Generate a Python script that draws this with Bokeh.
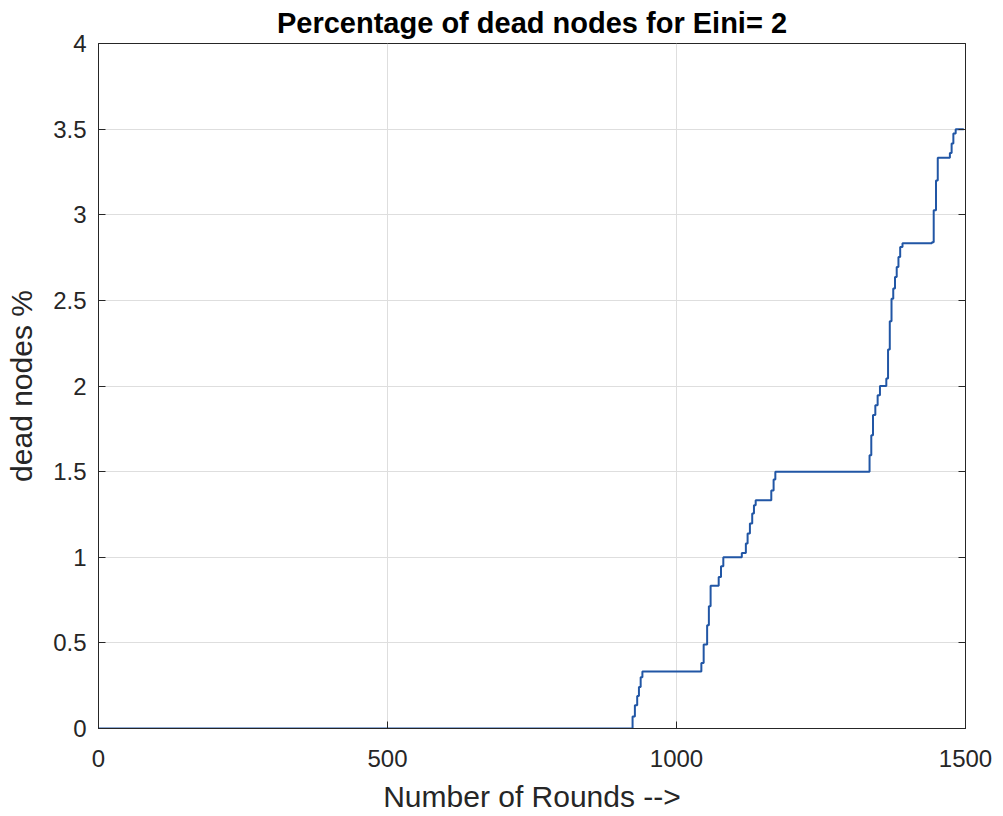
from bokeh.plotting import figure
from bokeh.models import Range1d, FixedTicker, LinearAxis, CustomJSTickFormatter
from bokeh.embed import file_html
from bokeh.resources import INLINE

# ---- data ----
rounds = [0, 924, 928, 932, 935, 938, 941, 1043, 1047, 1053, 1056, 1059,
          1073, 1077, 1081, 1113, 1120, 1123, 1127, 1131, 1134, 1137,
          1164, 1168, 1171, 1334, 1337, 1340, 1344, 1348, 1352,
          1363, 1366, 1369, 1372, 1375, 1378, 1381, 1384, 1387, 1391,
          1442, 1445, 1449, 1452, 1473, 1476, 1479, 1483, 1497]
dead_pct = [0.0, 0.07, 0.136, 0.19, 0.243, 0.30, 0.333, 0.383, 0.49, 0.603, 0.714, 0.833,
            0.885, 0.948, 1.0, 1.025, 1.08, 1.139, 1.197, 1.255, 1.304, 1.333,
            1.39, 1.454, 1.5, 1.596, 1.713, 1.83, 1.888, 1.946, 2.0,
            2.044, 2.213, 2.378, 2.51, 2.57, 2.637, 2.695, 2.754, 2.812, 2.833,
            2.84, 3.027, 3.2, 3.333, 3.361, 3.416, 3.474, 3.5, 3.5]
x_ticks = [0, 500, 1000, 1500]
y_ticks = [0, 0.5, 1, 1.5, 2, 2.5, 3, 3.5, 4]

title_text = "Percentage of dead nodes for Eini= 2"
x_label = "Number of Rounds -->"
y_label = "dead nodes %"

FONT = "Liberation Sans"
AX = "#262626"
TICK_SIZE = "24px"
LABEL_SIZE = "30px"

p = figure(width=1003, height=816, output_backend="svg", toolbar_location=None,
           x_range=Range1d(0, 1500), y_range=Range1d(0, 4),
           min_border_left=98, min_border_right=38, min_border_top=43, min_border_bottom=88,
           background_fill_color="white", border_fill_color="white")

p.title.text = title_text
p.title.align = "center"
p.title.text_font = FONT
p.title.text_font_size = "29px"
p.title.text_font_style = "bold"
p.title.text_color = "#000000"
p.title.standoff = 9
p.title.vertical_align = "bottom"

p.outline_line_color = AX
p.outline_line_width = 1
p.outline_line_alpha = 1

fmt = CustomJSTickFormatter(code="return String(tick);")
blank = CustomJSTickFormatter(code="return '';")

for ax in (p.xaxis[0], p.yaxis[0]):
    ax.axis_line_color = AX
    ax.major_tick_line_color = AX
    ax.major_tick_in = 7
    ax.major_tick_out = 0
    ax.minor_tick_line_color = None
    ax.major_label_text_font = FONT
    ax.major_label_text_font_size = TICK_SIZE
    ax.major_label_text_color = AX
    ax.axis_label_text_font = FONT
    ax.axis_label_text_font_size = LABEL_SIZE
    ax.axis_label_text_font_style = "normal"
    ax.axis_label_text_color = AX
    ax.formatter = fmt

p.xaxis[0].ticker = FixedTicker(ticks=x_ticks)
p.yaxis[0].ticker = FixedTicker(ticks=y_ticks)
p.xaxis[0].axis_label = x_label
p.yaxis[0].axis_label = y_label
p.xaxis[0].major_label_standoff = 21
p.yaxis[0].major_label_standoff = 12
p.xaxis[0].axis_label_standoff = 10
p.yaxis[0].axis_label_standoff = 12

right = LinearAxis(ticker=FixedTicker(ticks=y_ticks), formatter=blank,
                   axis_line_color=AX, major_tick_line_color=AX, major_tick_in=7,
                   major_tick_out=0, minor_tick_line_color=None)
p.add_layout(right, "right")

p.xgrid.ticker = FixedTicker(ticks=x_ticks)
p.ygrid.ticker = FixedTicker(ticks=y_ticks)
for g in (p.xgrid[0], p.ygrid[0]):
    g.grid_line_color = "#dedede"
    g.grid_line_width = 1

p.step(rounds, dead_pct, mode="after", line_color="#2156a5", line_width=2)

open("out.html", "w").write(file_html(p, INLINE))
